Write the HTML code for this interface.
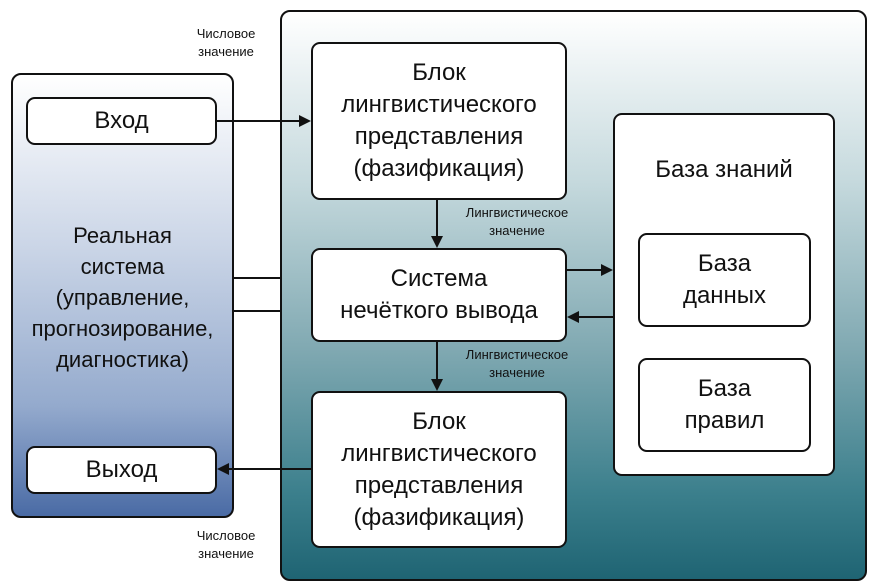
<!DOCTYPE html>
<html><head><meta charset="utf-8"><style>
body{margin:0;width:876px;height:587px;background:#fff;position:relative;overflow:hidden;font-family:"Liberation Sans","DejaVu Sans",sans-serif;color:#111}
.a{position:absolute;box-sizing:border-box}
.box{border:2px solid #111;border-radius:9px;background:#fff;display:flex;align-items:center;justify-content:center;text-align:center;font-size:24px;line-height:32px}
.sm{position:absolute;font-size:13px;line-height:18px;text-align:center;color:#111}
</style></head><body>
<div class="a" style="left:11px;top:73px;width:223px;height:445px;border:2.5px solid #111;border-radius:10px;background:linear-gradient(#ffffff 0%,#c9d4e6 40%,#94aacd 75%,#4a6ba5 100%)"></div>
<div class="a" style="left:280px;top:10px;width:587px;height:571px;border:2.5px solid #111;border-radius:10px;background:linear-gradient(#ffffff 0%,#c5d9dd 30%,#7fa8b1 60%,#3b7f8c 85%,#1f6473 100%)"></div>
<div class="a box" style="left:26px;top:97px;width:191px;height:48px">Вход</div>
<div class="a box" style="left:26px;top:446px;width:191px;height:48px">Выход</div>
<div class="a" style="left:6px;top:220px;width:233px;text-align:center;font-size:22px;line-height:31px">Реальная<br>система<br>(управление,<br>прогнозирование,<br>диагностика)</div>
<div class="a box" style="left:311px;top:42px;width:256px;height:158px">Блок<br>лингвистического<br>представления<br>(фазификация)</div>
<div class="a box" style="left:311px;top:248px;width:256px;height:94px">Система<br>нечёткого вывода</div>
<div class="a box" style="left:311px;top:391px;width:256px;height:157px">Блок<br>лингвистического<br>представления<br>(фазификация)</div>
<div class="a box" style="left:613px;top:113px;width:222px;height:363px;align-items:flex-start;padding-top:39px">База знаний</div>
<div class="a box" style="left:638px;top:233px;width:173px;height:94px">База<br>данных</div>
<div class="a box" style="left:638px;top:358px;width:173px;height:94px">База<br>правил</div>
<div class="sm" style="left:176px;top:25px;width:100px">Числовое<br>значение</div>
<div class="sm" style="left:176px;top:527px;width:100px">Числовое<br>значение</div>
<div class="sm" style="left:447px;top:204px;width:140px">Лингвистическое<br>значение</div>
<div class="sm" style="left:447px;top:346px;width:140px">Лингвистическое<br>значение</div>
<svg class="a" style="left:0;top:0" width="876" height="587">
<g stroke="#111" stroke-width="2" fill="none">
<line x1="217" y1="121" x2="300" y2="121"/>
<line x1="437" y1="200" x2="437" y2="237"/>
<line x1="437" y1="342" x2="437" y2="380"/>
<line x1="567" y1="270" x2="602" y2="270"/>
<line x1="613" y1="317" x2="578" y2="317"/>
<line x1="311" y1="469" x2="228" y2="469"/>
<line x1="234" y1="278" x2="280" y2="278"/>
<line x1="234" y1="311" x2="280" y2="311"/>
</g>
<g fill="#111">
<polygon points="311,121 299,115 299,127"/>
<polygon points="437,248 431,236 443,236"/>
<polygon points="437,391 431,379 443,379"/>
<polygon points="613,270 601,264 601,276"/>
<polygon points="567,317 579,311 579,323"/>
<polygon points="217,469 229,463 229,475"/>
</g>
</svg>
</body></html>
